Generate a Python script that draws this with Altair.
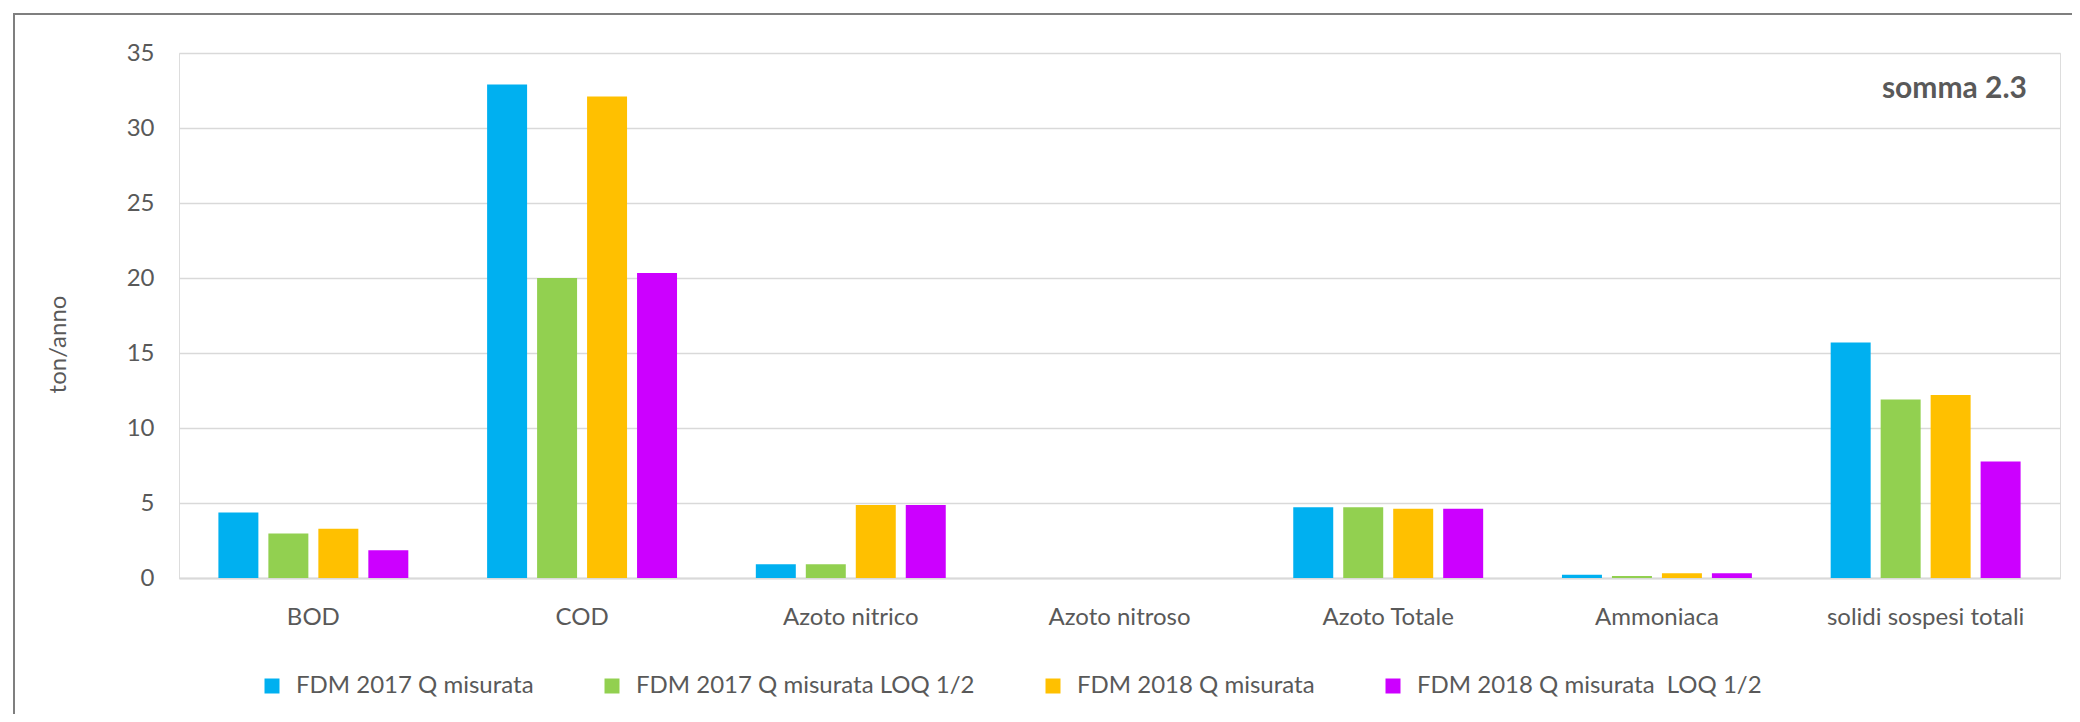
import altair as alt
import pandas as pd

categories = ["BOD", "COD", "Azoto nitrico", "Azoto nitroso", "Azoto Totale",
              "Ammoniaca", "solidi sospesi totali"]
series = ["FDM 2017 Q misurata", "FDM 2017 Q misurata LOQ 1/2",
          "FDM 2018 Q misurata", "FDM 2018 Q misurata\u00a0 LOQ 1/2"]
fdm2017 = [4.37, 32.9, 0.91, 0.0, 4.71, 0.22, 15.7]
fdm2017_loq = [2.97, 20.0, 0.91, 0.0, 4.71, 0.13, 11.9]
fdm2018 = [3.29, 32.1, 4.87, 0.0, 4.62, 0.31, 12.2]
fdm2018_loq = [1.85, 20.33, 4.87, 0.0, 4.62, 0.31, 7.77]
colors = ["#00B0F0", "#92D050", "#FFC000", "#CC00FF"]
y_ticks = [0, 5, 10, 15, 20, 25, 30, 35]
y_title = "ton/anno"
note = "somma 2.3"

rows = []
for s, vals in zip(series, [fdm2017, fdm2017_loq, fdm2018, fdm2018_loq]):
    for c, v in zip(categories, vals):
        rows.append({"categoria": c, "serie": s, "valore": v})
df = pd.DataFrame(rows)

FONT = "Lato"
GREY = "#595959"

bars = alt.Chart(df).mark_bar().encode(
    x=alt.X("categoria:N", sort=categories,
            scale=alt.Scale(paddingInner=0.256, paddingOuter=0.128),
            axis=alt.Axis(title=None, labelAngle=0, ticks=False,
                          labelPadding=27, labelFontSize=24, labelFont=FONT,
                          labelColor=GREY, labelLimit=0,
                          domainColor="#d9d9d9", domainWidth=2)),
    xOffset=alt.XOffset("serie:N", sort=series,
                        scale=alt.Scale(paddingInner=0.2, paddingOuter=0.1)),
    y=alt.Y("valore:Q", scale=alt.Scale(domain=[0, 35], nice=False),
            axis=alt.Axis(values=y_ticks, title=y_title, domain=False,
                          ticks=False, labelPadding=25, labelFontSize=24,
                          labelFont=FONT, labelColor=GREY,
                          gridColor="#d9d9d9", gridWidth=1.5,
                          titleFont=FONT, titleFontSize=24,
                          titleFontWeight="normal", titleColor=GREY,
                          titleAngle=270, titleX=-121, titleY=291,
                          titleAlign="center", titleBaseline="middle")),
    color=alt.Color("serie:N", sort=series,
                    scale=alt.Scale(domain=series, range=colors),
                    legend=alt.Legend(title=None, orient="none",
                                      direction="horizontal", columns=4,
                                      legendX=81, legendY=621,
                                      symbolType="square", symbolSize=225,
                                      symbolStrokeWidth=0, labelFont=FONT,
                                      labelFontSize=24, labelColor=GREY,
                                      labelLimit=0,
                                      labelOffset=12, columnPadding=66)),
)

note_layer = alt.Chart(pd.DataFrame({"t": [note]})).mark_text(
    font=FONT, fontSize=30, fontWeight="bold", color=GREY,
    align="right", baseline="middle"
).encode(text="t:N", x=alt.value(1848), y=alt.value(36))

border = alt.Chart(pd.DataFrame({"b": [0]})).mark_rect(
    fill=None, stroke="#7f7f7f", strokeWidth=2, clip=False
).encode(x=alt.value(-165), x2=alt.value(2300),
         y=alt.value(-39), y2=alt.value(900))

chart = alt.layer(border, bars, note_layer).properties(
    width=1881, height=525,
    autosize=alt.AutoSizeParams(type="none"),
    padding={"left": 171, "top": 45, "right": 12, "bottom": 136},
).configure_view(stroke=None).configure(background="white")

chart.save("out.html", embed_options={"renderer": "svg", "actions": False})
